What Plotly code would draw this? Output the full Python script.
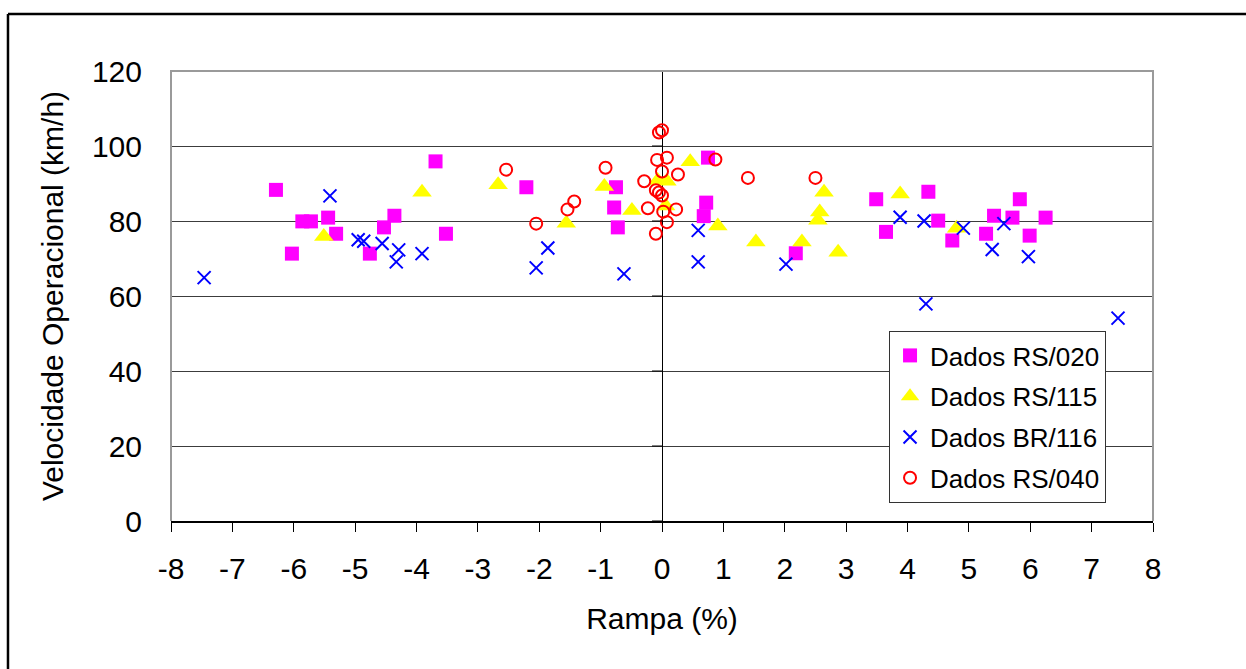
import plotly.graph_objects as go

# Dados RS/020 (squares)
rs020_x = [-6.29, -6.03, -5.86, -5.72, -5.44, -5.31, -4.76, -4.53, -4.36, -3.69, -3.52,
           -2.21, -0.78, -0.75, -0.72, 0.68, 0.72, 0.75, 2.18, 3.49, 3.65, 4.34, 4.50,
           4.73, 5.28, 5.41, 5.71, 5.83, 5.99, 6.25]
rs020_y = [88.3, 71.3, 79.9, 79.9, 80.9, 76.6, 71.3, 78.3, 81.4, 95.9, 76.6,
           89.0, 83.6, 89.0, 78.3, 81.3, 84.9, 96.9, 71.4, 85.8, 77.1, 87.8, 80.1,
           74.8, 76.6, 81.4, 80.9, 85.8, 76.1, 80.9]

# Dados RS/115 (triangles)
rs115_x = [-5.51, -3.91, -2.67, -1.56, -0.94, -0.49, -0.07, 0.08, 0.06, 0.46, 0.91,
           1.53, 2.28, 2.54, 2.57, 2.64, 2.87, 3.88, 4.80]
rs115_y = [75.9, 87.7, 89.7, 79.4, 89.2, 82.8, 90.8, 90.6, 84.0, 95.8, 78.7,
           74.4, 74.4, 80.2, 82.4, 87.7, 71.7, 87.2, 78.1]

# Dados BR/116 (x)
br116_x = [-7.46, -5.41, -4.95, -4.86, -4.56, -4.33, -4.29, -3.91, -2.05, -1.86, -0.62,
           0.59, 0.59, 2.02, 3.88, 4.27, 4.30, 4.91, 5.38, 5.57, 5.97, 7.43]
br116_y = [64.9, 86.7, 75.0, 74.6, 74.0, 69.1, 72.3, 71.3, 67.5, 72.8, 65.9,
           77.5, 69.1, 68.5, 81.0, 80.0, 57.9, 78.1, 72.4, 79.3, 70.5, 54.1]

# Dados RS/040 (open circles)
rs040_x = [-2.54, -2.05, -1.54, -1.43, -0.92, -0.29, -0.23, -0.10, -0.10, -0.05, 0.00,
           -0.05, 0.00, -0.08, 0.08, 0.00, 0.26, 0.02, 0.23, 0.08, 0.87, 1.40, 2.50]
rs040_y = [93.7, 79.3, 83.1, 85.2, 94.2, 90.6, 83.4, 76.6, 88.2, 87.6, 86.8,
           103.6, 104.2, 96.3, 96.9, 93.2, 92.4, 82.5, 83.1, 79.7, 96.4, 91.5, 91.5]

x_ticks = list(range(-8, 9))
y_ticks = [0, 20, 40, 60, 80, 100, 120]

FONT = "Liberation Sans, Arial, sans-serif"

fig = go.Figure()
fig.add_trace(go.Scatter(x=rs020_x, y=rs020_y, mode="markers", name="Dados RS/020",
                         legendgroup="a",
                         marker=dict(symbol="square", size=14, color="#FF00FF",
                                     line=dict(width=0))))
fig.add_trace(go.Scatter(x=rs115_x, y=rs115_y, mode="markers", name="Dados RS/115",
                         legendgroup="b",
                         marker=dict(symbol="triangle-up", size=17, color="#FFFF00",
                                     line=dict(width=0))))
fig.add_trace(go.Scatter(x=br116_x, y=br116_y, mode="markers", name="Dados BR/116",
                         legendgroup="c",
                         marker=dict(symbol="x-thin", size=13, color="#0000FF",
                                     line=dict(width=2, color="#0000FF"))))
fig.add_trace(go.Scatter(x=rs040_x, y=rs040_y, mode="markers", name="Dados RS/040",
                         legendgroup="d",
                         marker=dict(symbol="circle-open", size=12, color="#FF0000",
                                     line=dict(width=2, color="#FF0000"))))

shapes = []
# small y ticks on the vertical axis crossing at x=0
for v in y_ticks[:-1]:
    shapes.append(dict(type="line", xref="x", yref="y", xsizemode="pixel", xanchor=0,
                       x0=-10, x1=0, y0=v, y1=v, line=dict(color="black", width=1)))
# gray plot frame (left, top, right)
shapes.append(dict(type="path", xref="paper", yref="paper",
                   path="M 0 0 L 0 1 L 1 1 L 1 0",
                   line=dict(color="#9a9a9a", width=2)))
# outer black frame (top and left)
shapes.append(dict(type="line", xref="paper", yref="paper",
                   x0=-0.1660, x1=1.2, y0=1.1267, y1=1.1267,
                   line=dict(color="black", width=2.5)))
shapes.append(dict(type="line", xref="paper", yref="paper",
                   x0=-0.1660, x1=-0.1660, y0=-0.5, y1=1.1267,
                   line=dict(color="black", width=2.5)))

fig.update_layout(
    width=1246, height=669,
    margin=dict(l=171, r=93, t=71, b=148),
    paper_bgcolor="white", plot_bgcolor="white",
    font=dict(family=FONT, size=30, color="black"),
    showlegend=True,
    legend=dict(x=0.7312, y=0.4222, xanchor="left", yanchor="top",
                bgcolor="white", bordercolor="#333333", borderwidth=1,
                font=dict(family=FONT, size=26, color="black"),
                tracegroupgap=4, itemsizing="trace"),
    shapes=shapes,
    xaxis=dict(range=[-8, 8], tickvals=x_ticks, ticktext=[str(t) for t in x_ticks],
               showgrid=False, zeroline=True, zerolinecolor="black", zerolinewidth=1,
               showline=True, linecolor="black", linewidth=1.5,
               ticks="outside", ticklen=9, tickcolor="black", tickwidth=1,
               tickfont=dict(size=30), ticklabelstandoff=11,
               title=dict(text="Rampa (%)", font=dict(size=30), standoff=24)),
    yaxis=dict(range=[0, 120], tickvals=y_ticks, ticktext=[str(t) for t in y_ticks],
               showgrid=True, gridcolor="#3c3c3c", gridwidth=1,
               zeroline=False, showline=False, ticks="",
               tickfont=dict(size=30), ticklabelstandoff=28,
               title=dict(text="Velocidade Operacional (km/h)", font=dict(size=30),
                          standoff=19)),
)

fig.write_html("out.html")
